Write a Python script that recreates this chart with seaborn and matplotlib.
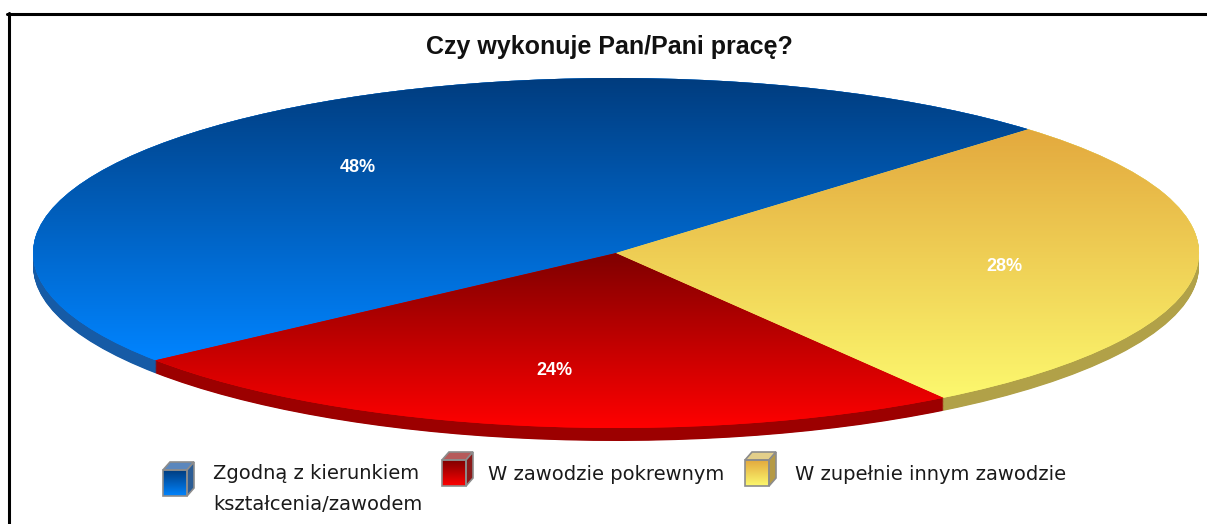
import numpy as np
import matplotlib
matplotlib.use("Agg")
import matplotlib.pyplot as plt
import seaborn as sns
from matplotlib.colors import LinearSegmentedColormap
from matplotlib.patches import Polygon
from matplotlib.lines import Line2D

# Data
title = "Czy wykonuje Pan/Pani pracę?"
categories = ["Zgodną z kierunkiem\nkształcenia/zawodem", "W zawodzie pokrewnym", "W zupełnie innym zawodzie"]
shares = [48, 24, 28]

# Colours (gradient top -> bottom, and the 3D rim)
top_colors = ["#003c7e", "#7f0000", "#e3a93e"]
bottom_colors = ["#0084ff", "#ff0000", "#fcf86e"]
side_colors = ["#165ba6", "#9c0000", "#b1a148"]
cube_tops = ["#5b87bd", "#b65a5a", "#e3cf8a"]
cube_sides = ["#2c5d95", "#8a1a1a", "#b59a45"]

sns.set_theme(style="white")
plt.rcParams["font.family"] = ["Liberation Sans", "DejaVu Sans"]

W, H = 1207, 524
fig = plt.figure(figsize=(W / 100, H / 100), dpi=100)
fig.patch.set_facecolor("white")

# frame (top and left edges only visible)
fig.add_artist(Line2D([7 / W, 1.01], [1 - 14 / H] * 2, color="black", lw=2.2, transform=fig.transFigure))
fig.add_artist(Line2D([8.5 / W] * 2, [-0.01, 1 - 13 / H], color="black", lw=2.2, transform=fig.transFigure))

fig.text(0.505, 1 - 47 / H, title, ha="center", va="center", fontsize=18, fontweight="bold", color="#111111")

# the pie, squashed into an ellipse
depth = 13 / 175
ax = fig.add_axes([33 / W, (H - 441) / H, 1166 / W, 363 / H])

for k in np.linspace(depth, 0, 24):
    ax.pie(shares, colors=side_colors, startangle=45, center=(0, -k),
           wedgeprops=dict(linewidth=0))

wedges, texts, autotexts = ax.pie(
    shares, colors=bottom_colors, startangle=45,
    autopct=lambda p: f"{p:.0f}%", pctdistance=0.67,
    wedgeprops=dict(linewidth=0),
    textprops=dict(color="white", fontsize=13, fontweight="bold"))

grad = np.linspace(0, 1, 256).reshape(-1, 1)
for w, c_bot, c_top in zip(wedges, bottom_colors, top_colors):
    x0, y0, x1, y1 = w.get_path().get_extents().extents
    cmap = LinearSegmentedColormap.from_list("g", [c_bot, c_top])
    im = ax.imshow(grad, cmap=cmap, extent=[x0, x1, y0, y1], origin="lower",
                   aspect="auto", interpolation="bilinear", zorder=2)
    im.set_clip_path(w)
for t in autotexts:
    t.set_zorder(3)
    t.set_va("center_baseline")

ax.set_aspect("auto")
ax.set_xlim(-1, 1)
ax.set_ylim(-1 - depth, 1)
ax.axis("off")


# legend with little cubes
def cube(x_px, y_px, c_top, c_bot, c_lid, c_side):
    # x_px, y_px: top-left of the icon box in pixels
    iw, ih = 34, 38
    iax = fig.add_axes([x_px / W, 1 - (y_px + ih) / H, iw / W, ih / H])
    fw, fh, dx, dy = 24, 26, 7, 8
    fy = dy + 1
    front = Polygon([(1, fy), (1 + fw, fy), (1 + fw, fy + fh), (1, fy + fh)], closed=True,
                    facecolor="none", edgecolor="#8c8c8c", lw=1.2, zorder=3)
    lid = Polygon([(1, fy), (1 + dx, fy - dy), (1 + fw + dx, fy - dy), (1 + fw, fy)], closed=True,
                  facecolor=c_lid, edgecolor="#8c8c8c", lw=1.2, zorder=2)
    side = Polygon([(1 + fw, fy), (1 + fw + dx, fy - dy), (1 + fw + dx, fy + fh - dy), (1 + fw, fy + fh)],
                   closed=True, facecolor=c_side, edgecolor="#8c8c8c", lw=1.2, zorder=2)
    cm = LinearSegmentedColormap.from_list("c", [c_top, c_bot])
    iax.imshow(grad, cmap=cm, extent=[1, 1 + fw, fy + fh, fy], origin="upper",
               aspect="auto", zorder=1)
    for p in (front, lid, side):
        iax.add_patch(p)
    iax.set_xlim(0, iw)
    iax.set_ylim(ih, 0)
    iax.axis("off")


cube_x = [162, 441, 744]
cube_y = [461, 451, 451]
text_x = [213, 488, 795]
for i, lab in enumerate(categories):
    cube(cube_x[i], cube_y[i], top_colors[i], bottom_colors[i], cube_tops[i], cube_sides[i])
    if "\n" in lab:
        fig.text(text_x[i] / W, 1 - 464 / H, lab, ha="left", va="top",
                 fontsize=14, family="DejaVu Sans", color="#1a1a1a", linespacing=1.8)
    else:
        fig.text(text_x[i] / W, 1 - 473 / H, lab, ha="left", va="center_baseline",
                 fontsize=14, family="DejaVu Sans", color="#1a1a1a")

fig.savefig("out.png", dpi=100, facecolor="white")
